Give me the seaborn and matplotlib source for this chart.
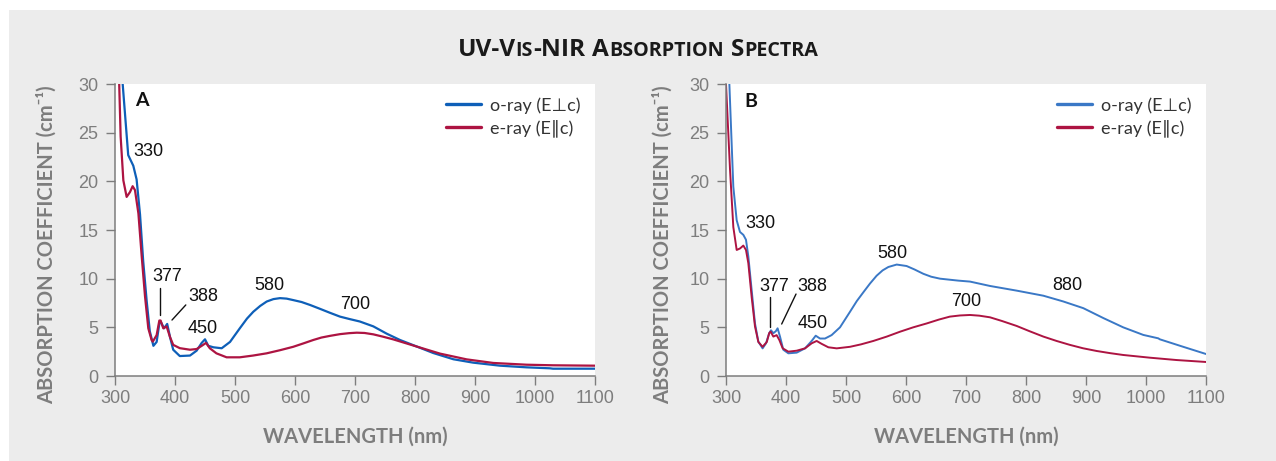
import numpy as np
import pandas as pd
import matplotlib
matplotlib.use("Agg")
import matplotlib.pyplot as plt
from matplotlib.patches import Rectangle
import seaborn as sns

# ---------------- data ----------------
# Panel A, o-ray (E⊥c)
wl_a_o = [300, 312.8, 322, 330.5, 336, 341.7, 347, 352.8, 358, 364, 369.4, 373.9, 376,
          381.7, 387, 391.7, 397, 408, 425, 436, 444.5, 450, 455.5, 464, 477.8, 491.7,
          508, 520, 530.5, 542, 552.8, 564, 575, 586, 597, 611, 625, 641.7, 658, 675,
          691, 708, 730.5, 752.8, 775, 800, 830.5, 864, 897, 941.7, 986, 1025, 1030, 1100]
abs_a_o = [48, 30, 22.7, 21.6, 20.2, 16.6, 11.8, 7.7, 4.6, 3.1, 3.5, 5.4, 5.6,
           4.9, 5.35, 4.0, 2.7, 2.05, 2.1, 2.6, 3.4, 3.77, 3.1, 2.95, 2.85, 3.5,
           4.9, 5.9, 6.6, 7.2, 7.65, 7.9, 8.0, 7.95, 7.8, 7.6, 7.3, 6.9, 6.5, 6.1,
           5.85, 5.6, 5.1, 4.35, 3.7, 3.1, 2.36, 1.72, 1.37, 1.06, 0.89, 0.79, 0.75, 0.75]
# Panel A, e-ray (E∥c)
wl_a_e = [300, 307, 309.4, 313.9, 319.4, 325, 329.4, 333.3, 339, 344.5, 350, 355.5, 361,
          363, 369.4, 373.9, 376, 380.5, 386, 391.7, 397, 408, 425, 436, 444.5, 451.7,
          458, 469, 486, 508, 530, 552.8, 575, 597, 614, 630.5, 644, 658, 675, 690,
          703, 716, 730.5, 746, 763.9, 800, 841.7, 886, 930.5, 986, 1030.5, 1100]
abs_a_e = [45, 30, 24.6, 20.1, 18.4, 18.9, 19.5, 19.1, 16.7, 12.3, 8.2, 4.9, 3.7,
           3.53, 4.2, 5.7, 5.7, 4.9, 5.1, 4.0, 3.2, 2.86, 2.7, 2.77, 3.1, 3.4,
           2.85, 2.33, 1.92, 1.92, 2.1, 2.33, 2.65, 3.0, 3.35, 3.7, 3.95, 4.12, 4.3, 4.4,
           4.45, 4.42, 4.28, 4.05, 3.76, 3.08, 2.3, 1.71, 1.34, 1.16, 1.1, 1.06]
# Panel B, o-ray (E⊥c)
wl_b_o = [300, 305.6, 312.2, 317.8, 323.3, 328.9, 333.3, 337.2, 342.8, 348.3, 353.9, 361,
          366.7, 372, 375, 378.9, 383, 386, 390, 395.5, 403.9, 417.8, 431.7, 442.8,
          449.5, 456.7, 465, 476, 490, 506.7, 518, 528.9, 540, 551, 561, 570.6, 584.5,
          601, 614, 628.9, 642, 656.7, 687, 706.7, 740, 784.5, 828.9, 862, 895.5, 929,
          962, 995.5, 1020.5, 1023, 1062, 1100]
abs_b_o = [45, 30, 19.45, 16.0, 14.8, 14.5, 14.0, 12.3, 8.8, 5.4, 3.53, 2.84,
           3.36, 4.4, 4.7, 4.4, 4.6, 4.9, 4.05, 2.7, 2.33, 2.4, 2.84, 3.6,
           4.14, 3.85, 3.85, 4.2, 5.0, 6.6, 7.7, 8.6, 9.5, 10.3, 10.85, 11.2, 11.45,
           11.3, 10.95, 10.5, 10.2, 10.0, 9.8, 9.7, 9.25, 8.77, 8.25, 7.66, 6.97, 5.95,
           5.0, 4.22, 3.87, 3.77, 3.0, 2.26]
# Panel B, e-ray (E∥c)
wl_b_e = [297, 300, 306.7, 312.2, 317.8, 323.3, 328.9, 333.3, 337.2, 342.8, 348.3, 353.9,
          361, 368, 372, 374.4, 378.9, 384.4, 388.9, 394.4, 403.9, 417.8, 431.7, 442.8,
          451.1, 459.5, 470.6, 484.5, 506.7, 525, 545.5, 568, 590, 612, 634.5, 655, 673,
          690, 706.7, 722, 740, 760, 784.5, 806, 828.9, 851, 873, 895, 917.8, 940, 962,
          1006.7, 1051, 1100]
abs_b_e = [40, 30, 21.2, 15.3, 12.95, 13.1, 13.4, 12.95, 11.6, 8.1, 5.1, 3.5,
           3.0, 3.5, 4.4, 4.56, 4.05, 4.2, 3.7, 2.85, 2.5, 2.6, 2.84, 3.36,
           3.6, 3.3, 2.95, 2.84, 3.0, 3.25, 3.6, 4.05, 4.55, 5.0, 5.4, 5.8, 6.1,
           6.22, 6.27, 6.2, 6.03, 5.65, 5.14, 4.6, 4.05, 3.6, 3.2, 2.85, 2.57, 2.35, 2.16,
           1.88, 1.64, 1.44]

series_names = ["o-ray (E\u22a5c)", "e-ray (E\u2225c)"]
x_ticks = [300, 400, 500, 600, 700, 800, 900, 1000, 1100]
y_ticks = [0, 5, 10, 15, 20, 25, 30]

# peak labels: (text, x, y)
labels_a = [("330", 355.5, 23.1), ("377", 386.7, 10.2), ("388", 446.7, 8.15),
            ("450", 446.7, 4.88), ("580", 558, 9.25), ("700", 700.5, 7.3)]
labels_b = [("330", 356.7, 15.7), ("377", 380, 9.2), ("388", 444.7, 9.2),
            ("450", 444.7, 5.35), ("580", 578, 12.6), ("700", 700, 7.63),
            ("880", 869, 9.25)]
leaders_a = [([375, 375], [9.04, 6.27]), ([395, 418], [5.75, 7.3])]
leaders_b = [([373, 373], [8.1, 5.0]), ([392.8, 416.7], [5.34, 8.42])]

# ---------------- style ----------------
sns.set_theme(style="white")
plt.rcParams["font.family"] = ["Liberation Sans", "DejaVu Sans"]

W, H = 1276, 461
fig = plt.figure(figsize=(W / 100, H / 100), dpi=100)
fig.patch.set_facecolor("white")
fig.patches.append(Rectangle((9 / W, 0), 1 - 9 / W, 1 - 10 / H, transform=fig.transFigure,
                             facecolor="#ececec", edgecolor="none", zorder=-10))

blue = "#0e5fb8"
blue_b = "#3a78c6"
red = "#ad1442"
gray = "#7d7d7d"
humanist = ["Lato", "DejaVu Sans"]


def make_df(wo, ao, we, ae):
    d1 = pd.DataFrame({"wavelength": wo, "absorption": ao, "ray": series_names[0]})
    d2 = pd.DataFrame({"wavelength": we, "absorption": ae, "ray": series_names[1]})
    return pd.concat([d1, d2], ignore_index=True)


panels = [
    dict(left=115, letter="A", lx=0.055, ly=0.945, ylab_x=57,
         df=make_df(wl_a_o, abs_a_o, wl_a_e, abs_a_e),
         labels=labels_a, leaders=leaders_a, bcol=blue, lw=1.6),
    dict(left=726, letter="B", lx=0.051, ly=0.94, ylab_x=673,
         df=make_df(wl_b_o, abs_b_o, wl_b_e, abs_b_e),
         labels=labels_b, leaders=leaders_b, bcol=blue_b, lw=1.4),
]

for p in panels:
    ax = fig.add_axes([p["left"] / W, (H - 376) / H, 480 / W, 292 / H])
    ax.set_facecolor("white")
    sns.lineplot(data=p["df"], x="wavelength", y="absorption", hue="ray",
                 palette={series_names[0]: p["bcol"], series_names[1]: red},
                 ax=ax, linewidth=p["lw"], sort=False, estimator=None)
    ax.set_xlim(300, 1100)
    ax.set_ylim(0, 30)
    ax.set_xticks(x_ticks)
    ax.set_yticks(y_ticks)
    for s in ["top", "right"]:
        ax.spines[s].set_visible(False)
    for s in ["left", "bottom"]:
        ax.spines[s].set_color(gray)
        ax.spines[s].set_linewidth(1.1)
    ax.tick_params(axis="both", direction="out", length=6.5, width=1.0, color=gray,
                   labelcolor=gray, labelsize=13)
    ax.tick_params(axis="x", pad=3.5, bottom=True)
    ax.tick_params(axis="y", pad=5.5, left=True)

    ax.set_ylabel("ABSORPTION COEFFICIENT (cm\u207b\u00b9)", fontsize=14.5,
                  fontweight="bold", color=gray, family=humanist)
    ax.yaxis.set_label_coords((p["ylab_x"] - p["left"]) / 480, 0.449)
    ax.set_xlabel("WAVELENGTH (nm)", fontsize=14.5, fontweight="bold", color=gray,
                  family=humanist)
    ax.xaxis.set_label_coords(0.5, -0.175)

    ax.text(p["lx"], p["ly"], p["letter"], transform=ax.transAxes, ha="center",
            va="center", fontsize=14, fontweight="bold", color="#111111", family=humanist)

    for txt, x, y in p["labels"]:
        ax.text(x, y, txt, ha="center", va="center", fontsize=13, color="#111111")
    for xs, ys in p["leaders"]:
        ax.plot(xs, ys, color="#111111", linewidth=1.0)

    handles, labs = ax.get_legend_handles_labels()
    ax.legend(handles[:2], labs[:2], loc="upper left", bbox_to_anchor=(0.69, 0.955),
              frameon=False, handlelength=1.95, handletextpad=0.45,
              labelspacing=0.32, borderpad=0, borderaxespad=0,
              labelcolor="#333333", prop={"family": humanist, "size": 13})
    for ln in ax.get_legend().get_lines():
        ln.set_linewidth(2.4)

# ---------------- small-caps title ----------------
big, small = 17.6, 14.2
segments = [("UV-V", big), ("IS", small), ("-NIR", big), (None, big), ("A", big),
            ("BSORPTION", small), (None, big), ("S", big), ("PECTRA", small)]
renderer = fig.canvas.get_renderer()
objs = []
widths = []
for s, size in segments:
    if s is None:
        objs.append(None)
        widths.append(size * 100 / 72 * 0.3)
        continue
    t = fig.text(0, (H - 56) / H, s, fontsize=size, fontweight="bold", color="#1a1a1a",
                 family=["Open Sans", "DejaVu Sans"], va="baseline", ha="left")
    objs.append(t)
    widths.append(t.get_window_extent(renderer).width)
total = sum(widths)
x = 638 - total / 2
for t, w in zip(objs, widths):
    if t is not None:
        t.set_x(x / W)
    x += w

fig.savefig("out.png", dpi=100, facecolor=fig.get_facecolor())
